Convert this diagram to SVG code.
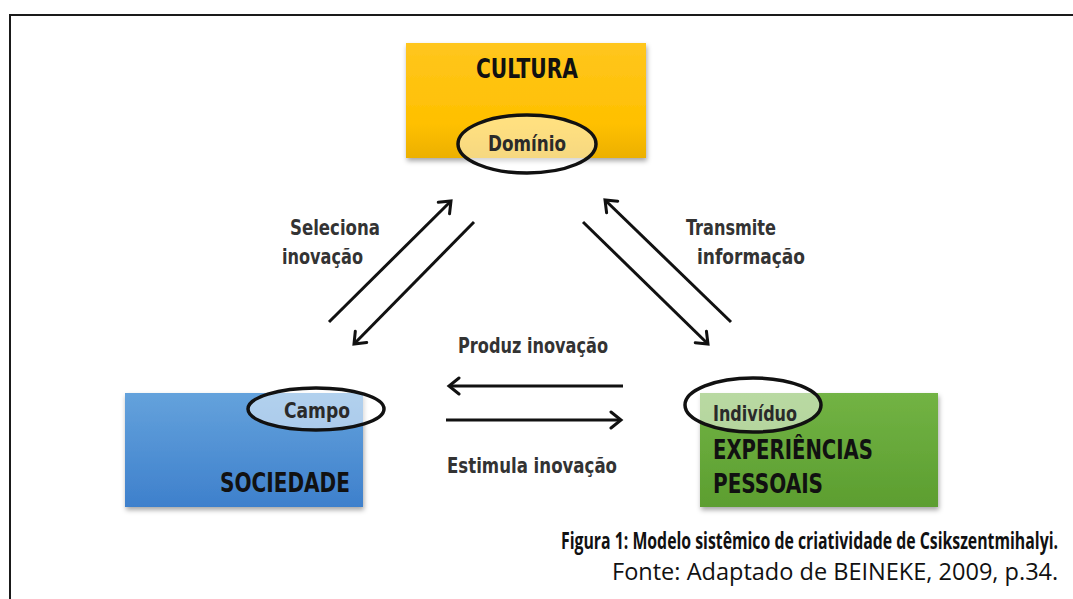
<svg xmlns="http://www.w3.org/2000/svg" width="1073" height="599" viewBox="0 0 1073 599">
<defs>
<style>
.lbl{font-family:"Liberation Sans Narrow","DejaVu Sans Condensed","Liberation Sans",sans-serif;font-weight:bold;fill:#333333;font-size:21px}
.ttl{font-family:"Liberation Sans Narrow","DejaVu Sans Condensed","Liberation Sans",sans-serif;font-weight:bold;fill:#111111;font-size:26px}
.sub{font-family:"Liberation Sans Narrow","DejaVu Sans Condensed","Liberation Sans",sans-serif;font-weight:bold;fill:#2a2a2a;font-size:21px}
.ell{fill:#ffffff;fill-opacity:0.5;stroke:#111;stroke-width:3.5}
.con{stroke:#111;stroke-width:3;fill:none;marker-end:url(#ah)}
.cap{font-family:"Open Sans","Liberation Sans",sans-serif;fill:#111;font-size:23px}
</style>
<marker id="ah" markerWidth="20" markerHeight="20" refX="13" refY="10" orient="auto" markerUnits="userSpaceOnUse">
<path d="M3,2 L13,10 L3,18" fill="none" stroke="#111" stroke-width="3" stroke-linecap="round" stroke-linejoin="miter"/>
</marker>
<linearGradient id="gy" x1="0" y1="0" x2="0" y2="1">
<stop offset="0" stop-color="#FFC61E"/><stop offset="0.7" stop-color="#FFC000"/><stop offset="1" stop-color="#ECB000"/>
</linearGradient>
<linearGradient id="gb" x1="0" y1="0" x2="0" y2="1">
<stop offset="0" stop-color="#64A2DC"/><stop offset="1" stop-color="#3E80CC"/>
</linearGradient>
<linearGradient id="gg" x1="0" y1="0" x2="0" y2="1">
<stop offset="0" stop-color="#72B344"/><stop offset="1" stop-color="#5C9E30"/>
</linearGradient>
<filter id="sh" x="-10%" y="-10%" width="120%" height="130%">
<feDropShadow dx="1" dy="3" stdDeviation="2.5" flood-color="#000" flood-opacity="0.35"/>
</filter>
</defs>
<rect width="1073" height="599" fill="#ffffff"/>
<path d="M10,599 L10,15 L1073,15" fill="none" stroke="#1a1a1a" stroke-width="2"/>

<g id="cultura">
<rect x="406" y="43" width="240" height="115" fill="url(#gy)" filter="url(#sh)"/>
<text class="ttl" x="527" y="78" text-anchor="middle" textLength="102" lengthAdjust="spacingAndGlyphs">CULTURA</text>
<ellipse class="ell" cx="527" cy="144" rx="69" ry="29"/>
<text class="sub" x="527" y="151" text-anchor="middle" textLength="78" lengthAdjust="spacingAndGlyphs">Domínio</text>
</g>

<g id="sociedade">
<rect x="125" y="393" width="238" height="114" fill="url(#gb)" filter="url(#sh)"/>
<ellipse class="ell" cx="316" cy="409" rx="68" ry="21"/>
<text class="sub" x="317" y="418" text-anchor="middle" textLength="66" lengthAdjust="spacingAndGlyphs">Campo</text>
<text class="ttl" x="350" y="492" text-anchor="end" textLength="130" lengthAdjust="spacingAndGlyphs">SOCIEDADE</text>
</g>

<g id="experiencias">
<rect x="700" y="393" width="238" height="114" fill="url(#gg)" filter="url(#sh)"/>
<ellipse class="ell" cx="753" cy="405" rx="68" ry="27"/>
<text class="sub" x="713" y="421" textLength="84" lengthAdjust="spacingAndGlyphs">Indivíduo</text>
<text class="ttl" x="713" y="459" textLength="160" lengthAdjust="spacingAndGlyphs">EXPERIÊNCIAS</text>
<text class="ttl" x="713" y="493" textLength="110" lengthAdjust="spacingAndGlyphs">PESSOAIS</text>
</g>

<g id="connectors">
<line class="con" x1="329" y1="322" x2="451" y2="201"/>
<line class="con" x1="474" y1="222" x2="354" y2="344"/>
<line class="con" x1="731" y1="322" x2="605" y2="200"/>
<line class="con" x1="583" y1="222" x2="708" y2="344"/>
<line class="con" x1="623" y1="386" x2="449" y2="386"/>
<line class="con" x1="446" y1="420" x2="621" y2="420"/>
</g>

<g id="labels">
<text class="lbl" x="290" y="235" textLength="90" lengthAdjust="spacingAndGlyphs">Seleciona</text>
<text class="lbl" x="282" y="264" textLength="81" lengthAdjust="spacingAndGlyphs">inovação</text>
<text class="lbl" x="686" y="235" textLength="90" lengthAdjust="spacingAndGlyphs">Transmite</text>
<text class="lbl" x="697" y="264" textLength="108" lengthAdjust="spacingAndGlyphs">informação</text>
<text class="lbl" x="458" y="353" textLength="150" lengthAdjust="spacingAndGlyphs">Produz inovação</text>
<text class="lbl" x="447" y="473" textLength="170" lengthAdjust="spacingAndGlyphs">Estimula inovação</text>
</g>

<g id="caption">
<text class="cap" transform="translate(561,549) scale(0.7,1)" x="0" y="0" font-weight="bold" textLength="710" lengthAdjust="spacingAndGlyphs">Figura 1: Modelo sistêmico de criatividade de Csikszentmihalyi.</text>
<text class="cap" transform="translate(612,580) scale(0.85,1)" x="0" y="0" textLength="525" lengthAdjust="spacingAndGlyphs">Fonte: Adaptado de BEINEKE, 2009, p.34.</text>
</g>
</svg>
